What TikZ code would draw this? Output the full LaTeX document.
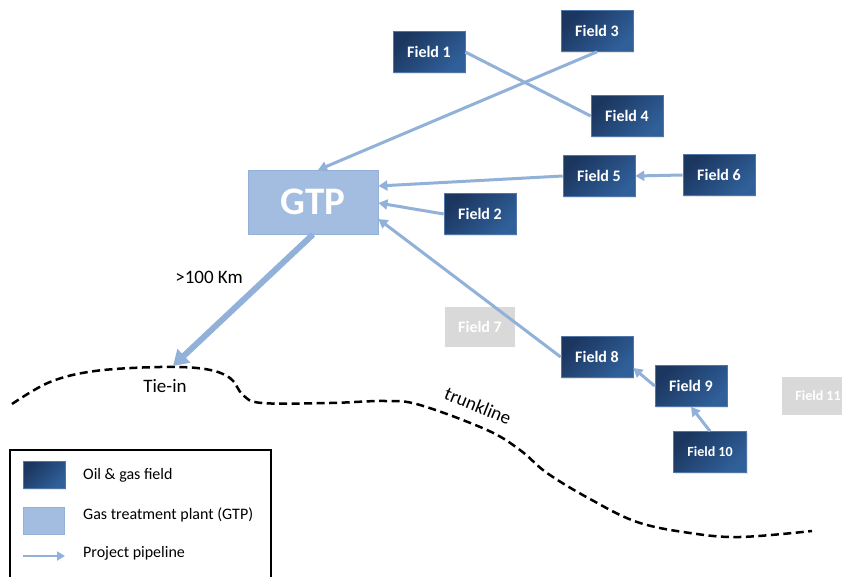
\documentclass[tikz,border=0pt]{standalone}
\usepackage{fontspec}
\setmainfont{Carlito}
\usetikzlibrary{arrows.meta,shadows}
\definecolor{fdark}{HTML}{1B365F}
\definecolor{flight}{HTML}{30609A}
\definecolor{fborder}{HTML}{4F76A8}
\definecolor{gtpfill}{HTML}{A2BDE0}
\definecolor{gtpborder}{HTML}{93B1D8}
\definecolor{pipe}{HTML}{92B1D9}
\definecolor{ghost}{HTML}{D9D9D9}
\tikzset{
  field/.style={draw=fborder, line width=0.6pt, left color=fdark, right color=flight, shading angle=45,
    minimum width=72pt, minimum height=41pt, text=white, font=\bfseries\fontsize{16}{18}\selectfont,
    inner sep=0pt, drop shadow={opacity=0.2, shadow xshift=1pt, shadow yshift=-1.5pt}},
  ghostbox/.style={fill=ghost, minimum width=70pt, minimum height=40pt, text=white,
    font=\bfseries\fontsize{16}{18}\selectfont, inner sep=0pt},
  gtpbox/.style={draw=gtpborder, line width=0.8pt, fill=gtpfill, minimum width=130pt, minimum height=64pt,
    text=white, font=\bfseries\fontsize{39}{42}\selectfont, inner sep=0pt},
  pipeline/.style={draw=pipe, line width=3pt, -{Triangle[length=9pt,width=10pt]}},
  plainpipe/.style={draw=pipe, line width=3pt},
  lbl/.style={font=\fontsize{19}{21}\selectfont, text=black, inner sep=0pt},
  legtxt/.style={font=\fontsize{16}{18}\selectfont, anchor=west, inner sep=0pt},
}
\begin{document}
\begin{tikzpicture}[x=1pt,y=-1pt]
\useasboundingbox[fill=white] (0,0) rectangle (842,577);

% trunkline
\draw[black, line width=2.5pt, dash pattern=on 8pt off 4.5pt] plot[smooth, tension=0.6] coordinates {
 (12,404) (50,382) (95,371) (160,367) (205,369) (230,378) (243,395) (262,403) (330,403) (385,401) (420,405) (487,430) (520,450) (547,473) (590,499) (637,522) (690,533) (740,537) (812,531)};

% nodes
\node[gtpbox] (gtp) at (313,202) {GTP};
\node[field] (f1) at (429,52) {Field 1};
\node[field] (f3) at (597,31) {Field 3};
\node[field] (f4) at (627,116) {Field 4};
\node[field] (f5) at (599,176) {Field 5};
\node[field] (f6) at (719,175) {Field 6};
\node[field] (f2) at (480,214) {Field 2};
\node[ghostbox] (f7) at (480,327) {Field 7};
\node[field] (f8) at (597,357) {Field 8};
\node[field] (f9) at (691,386) {Field 9};
\node[field, font=\bfseries\fontsize{14}{16}\selectfont, minimum width=73pt] (f10) at (710,452) {Field 10};
\node[ghostbox, font=\bfseries\fontsize{14}{16}\selectfont, minimum width=72pt, minimum height=38pt] (f11) at (818,396) {Field 11};

\coordinate (tiein) at (173,366);

% connectors
\draw[plainpipe] (f1.east) -- (f4.west);
\draw[pipeline] (f3.south) -- (318,170);
\draw[pipeline] (f5.west) -- (gtp.east |- 0,186);
\draw[pipeline] (f6.west) -- (f5.east);
\draw[pipeline] (f2.west) -- (gtp.east |- 0,203);
\draw[pipeline] (f8.west) -- (gtp.east |- 0,219);
\draw[pipeline] (f9.west) -- (f8.east |- 0,368);
\draw[pipeline] (f10.north) -- (f9.south);
\draw[draw=pipe, line width=6pt, -{Triangle[length=15pt,width=18pt]}] (gtp.south) -- (tiein);

% labels
\node[lbl] (km) at (209,277) {>100 Km};
\node[lbl] (tie) at (165,386) {Tie-in};
\node[lbl, rotate=-22] (trunk) at (478,406) {trunkline};

% legend
\draw[black, line width=1.6pt] (10,450) rectangle (271,590);
\node[field, drop shadow={opacity=0}, minimum width=42pt, minimum height=27pt] (lf) at (44,475) {};
\node[gtpbox, minimum width=41pt, minimum height=27pt] (lg) at (44,521) {};
\coordinate (la) at (23,556);
\coordinate (lb) at (65,556);
\draw[pipeline, line width=2.6pt, -{Triangle[length=8pt,width=9pt]}] (la) -- (lb);
\node[legtxt] (t1) at (83,475) {Oil \& gas field};
\node[legtxt] (t2) at (83,515) {Gas treatment plant (GTP)};
\node[legtxt] (t3) at (83,553) {Project pipeline};
\end{tikzpicture}
\end{document}
